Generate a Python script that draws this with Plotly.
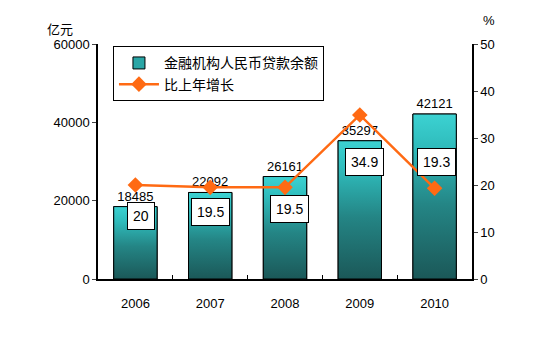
import plotly.graph_objects as go

years = ["2006", "2007", "2008", "2009", "2010"]
loans = [18485, 22092, 26161, 35297, 42121]
growth = [20, 19.5, 19.5, 34.9, 19.3]
left_ticks = [0, 20000, 40000, 60000]

bar_name = "金融机构人民币贷款余额"
line_name = "比上年增长"

# label placement (positions, not data)
pct_label_y = [13.4, 14.3, 14.9, 24.9, 24.9]
pct_label_dx = [6, 0, 4, 5, 2]

FONT = "Liberation Sans, Arial, Noto Sans CJK SC"
W = 0.58
idx = list(range(len(years)))

fig = go.Figure()
fig.add_trace(go.Bar(
    x=idx, y=loans, width=W, name=bar_name,
    marker=dict(color="#2aa6a6", line=dict(color="black", width=1)),
    text=[str(v) for v in loans], textposition="outside",
    textfont=dict(size=13, color="black", family=FONT),
    cliponaxis=False,
))
for i, v in zip(idx, loans):
    fig.add_trace(go.Scatter(
        x=[i - W / 2, i - W / 2, i + W / 2, i + W / 2, i - W / 2],
        y=[0, v, v, 0, 0], mode="lines", fill="toself",
        line=dict(color="black", width=1),
        fillgradient=dict(type="vertical", start=0, stop=v,
                          colorscale=[[0, "#1b5858"], [0.45, "#248585"],
                                      [0.8, "#2fbcbc"], [1, "#3cd2d2"]]),
        showlegend=False, hoverinfo="skip",
    ))
fig.add_trace(go.Scatter(
    x=idx, y=growth, yaxis="y2", name=line_name, mode="lines+markers",
    line=dict(color="#ff6a13", width=2.5),
    marker=dict(symbol="diamond", size=12, color="#ff6a13"),
    cliponaxis=False,
))

for i, g, ly, dx in zip(idx, growth, pct_label_y, pct_label_dx):
    fig.add_annotation(
        x=i, y=ly, xref="x", yref="y2", text=f"{g:g}", showarrow=False,
        xshift=dx, bgcolor="white", bordercolor="black", borderwidth=1,
        borderpad=5, font=dict(size=14, color="black", family=FONT),
    )

fig.add_annotation(x=(60 - 98) / 374, y=(279 - 30) / 235, xref="paper", yref="paper",
                   xanchor="center", yanchor="middle",
                   text="亿元", showarrow=False, font=dict(size=13, family=FONT))
fig.add_annotation(x=(489 - 98) / 374, y=(279 - 21) / 235, xref="paper", yref="paper",
                   xanchor="center", yanchor="middle",
                   text="%", showarrow=False, font=dict(size=13, family=FONT))

fig.update_layout(
    width=535, height=339,
    margin=dict(l=98, r=63, t=44, b=60),
    paper_bgcolor="white", plot_bgcolor="white",
    font=dict(family=FONT, size=13, color="black"),
    showlegend=True,
    legend=dict(x=0.04, y=0.99, xanchor="left", yanchor="top",
                bordercolor="black", borderwidth=1, bgcolor="white",
                font=dict(size=14, family=FONT), tracegroupgap=4,
                itemwidth=40),
    xaxis=dict(range=[-0.5, 4.5], tickvals=idx, ticktext=years,
               showline=True, linecolor="black", linewidth=1.5,
               ticks="", showgrid=False, zeroline=False,
               tickfont=dict(size=13), ticklabelstandoff=12,
               minor=dict(tickvals=[0.5, 1.5, 2.5, 3.5], ticks="inside",
                          ticklen=4, tickcolor="black")),
    yaxis=dict(range=[0, 60000], tickvals=left_ticks,
               ticktext=[str(t) for t in left_ticks],
               showline=True, linecolor="black", linewidth=1.5,
               ticks="outside", ticklen=4, showgrid=False, zeroline=False,
               tickfont=dict(size=13)),
    yaxis2=dict(range=[0, 50], dtick=10, overlaying="y", side="right",
                showline=True, linecolor="black", linewidth=1.5,
                ticks="outside", ticklen=4, showgrid=False, zeroline=False,
                tickfont=dict(size=13)),
)

fig.write_html("out.html")
